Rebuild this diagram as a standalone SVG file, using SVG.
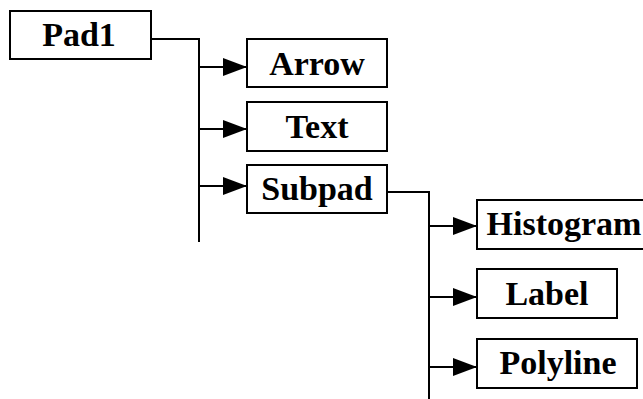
<svg xmlns="http://www.w3.org/2000/svg" width="643" height="399" viewBox="0 0 643 399">
<defs>
<style>
.box{fill:#fff;stroke:#000;stroke-width:2}
.lbl{font-family:"Liberation Serif","Times New Roman",serif;font-weight:bold;font-size:34px;fill:#000;text-anchor:middle}
.ln{fill:none;stroke:#000;stroke-width:2}
</style>
<marker id="ah" viewBox="0 0 24 18" refX="24" refY="9" markerWidth="24" markerHeight="18" markerUnits="userSpaceOnUse" orient="auto">
<path d="M0,0 L24,9 L0,18 Z" fill="#000"/>
</marker>
</defs>
<g id="connectors">
<polyline class="ln" points="151,39 199,39 199,242"/>
<line class="ln" x1="199" y1="67" x2="247" y2="67" marker-end="url(#ah)"/>
<line class="ln" x1="199" y1="129" x2="247" y2="129" marker-end="url(#ah)"/>
<line class="ln" x1="199" y1="186" x2="247" y2="186" marker-end="url(#ah)"/>
<polyline class="ln" points="387,192 429,192 429,399"/>
<line class="ln" x1="429" y1="226" x2="477" y2="226" marker-end="url(#ah)"/>
<line class="ln" x1="429" y1="297" x2="477" y2="297" marker-end="url(#ah)"/>
<line class="ln" x1="429" y1="367" x2="477" y2="367" marker-end="url(#ah)"/>
</g>
<g id="pad1"><rect class="box" x="10" y="11" width="141" height="48"/><text class="lbl" x="79" y="46">Pad1</text></g>
<g id="arrow"><rect class="box" x="247" y="39" width="140" height="48"/><text class="lbl" x="317" y="75">Arrow</text></g>
<g id="text"><rect class="box" x="247" y="102" width="140" height="49"/><text class="lbl" x="317" y="138">Text</text></g>
<g id="subpad"><rect class="box" x="247" y="165" width="140" height="48"/><text class="lbl" x="317" y="200">Subpad</text></g>
<g id="histogram"><rect class="box" x="477" y="200" width="170" height="49"/><text class="lbl" x="564" y="235">Histogram</text></g>
<g id="label"><rect class="box" x="477" y="269" width="140" height="49"/><text class="lbl" x="547" y="305">Label</text></g>
<g id="polyline"><rect class="box" x="477" y="339" width="160" height="49"/><text class="lbl" x="558" y="374">Polyline</text></g>
</svg>
